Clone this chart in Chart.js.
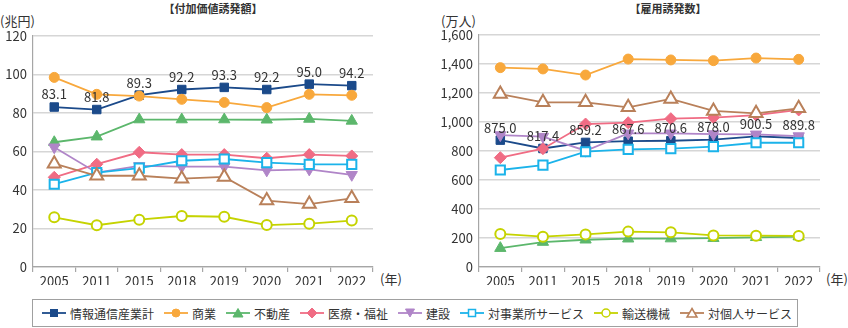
<!DOCTYPE html>
<html lang="ja">
<head>
<meta charset="utf-8">
<script src="https://cdn.jsdelivr.net/npm/chart.js@4/dist/chart.umd.min.js"></script>
<style>
  body { margin: 0; background: #fff; font-family: "Noto Sans CJK JP", sans-serif; color: #333; }
  #wrap { position: relative; width: 848px; height: 328px; overflow: hidden; }
  .txt { position: absolute; font-size: 13px; line-height: 1; white-space: nowrap; }
  .title { font-weight: bold; font-size: 11px; transform: translateX(-50%); }
  canvas { position: absolute; top: 0; }
  #legend { position: absolute; left: 32px; top: 299px; width: 766px; height: 28px; box-sizing: border-box;
            border: 1px solid #a0a0a0; display: flex; align-items: center; padding-left: 9px; font-size: 12px;
            white-space: nowrap; }
  .item { display: flex; align-items: center; margin-right: 10px; flex-shrink: 0; }
  .item svg { margin-right: 4px; flex-shrink: 0; }
</style>
</head>
<body>
<div id="wrap">
  <div class="txt title" style="left:213px; top:3px;">【付加価値誘発額】</div>
  <div class="txt title" style="left:668px; top:3px;">【雇用誘発数】</div>
  <div class="txt" style="left:0px; top:14px;">(兆円)</div>
  <div class="txt" style="left:441px; top:14px;">(万人)</div>
  <div class="txt" style="left:380px; top:272px;">(年)</div>
  <div class="txt" style="left:826px; top:272px;">(年)</div>
  <canvas id="left" width="420" height="285" style="left:0px;"></canvas>
  <canvas id="right" width="428" height="285" style="left:420px;"></canvas>
  <div id="legend"></div>
</div>
<script>
// categories
const years = ['2005', '2011', '2015', '2018', '2019', '2020', '2021', '2022'];
const seriesNames = ['情報通信産業計', '商業', '不動産', '医療・福祉', '建設', '対事業所サービス', '輸送機械', '対個人サービス'];

// 付加価値誘発額 (兆円)
const vaIct          = [83.1, 81.8, 89.3, 92.2, 93.3, 92.2, 95.0, 94.2];
const vaCommerce     = [98.5, 89.7, 88.8, 87.1, 85.5, 82.8, 89.7, 89.2];
const vaRealEstate   = [64.8, 67.7, 76.6, 76.6, 76.6, 76.5, 76.9, 75.9];
const vaMedical      = [46.6, 53.4, 59.6, 58.4, 58.4, 56.5, 58.4, 57.7];
const vaConstruction = [62.2, 49.0, 52.5, 52.1, 52.1, 50.2, 50.7, 47.9];
const vaBizService   = [43.0, 49.0, 51.4, 55.2, 56.1, 54.2, 53.3, 53.3];
const vaTransport    = [25.8, 21.7, 24.6, 26.5, 26.1, 21.8, 22.5, 24.1];
const vaPersonal     = [53.7, 47.4, 47.4, 45.9, 46.8, 34.5, 32.7, 35.7];

// 雇用誘発数 (万人)
const emIct          = [875.0, 817.4, 859.2, 867.6, 870.6, 878.0, 900.5, 889.8];
const emCommerce     = [1375, 1366, 1324, 1434, 1428, 1423, 1441, 1432];
const emRealEstate   = [130, 172, 188, 195, 196, 199, 205, 210];
const emMedical      = [754, 816, 986, 995, 1023, 1030, 1048, 1083];
const emConstruction = [910, 899, 802, 922, 922, 917, 915, 903];
const emBizService   = [669, 703, 795, 811, 816, 830, 857, 857];
const emTransport    = [228, 209, 225, 244, 239, 218, 216, 214];
const emPersonal     = [1193, 1136, 1136, 1101, 1159, 1076, 1060, 1094];

// axis ticks
const vaMax = 120, vaStep = 20;
const emMax = 1600, emStep = 200;

const FONT = '"Noto Sans CJK JP", sans-serif';

// look of each series
const styles = [
  { color: '#1b4a8a', shape: 'rect',     rot: 0,   r: 6,   open: false },
  { color: '#f8a83c', shape: 'circle',   rot: 0,   r: 5,   open: false },
  { color: '#5cb76c', shape: 'triangle', rot: 0,   r: 6.5, open: false },
  { color: '#f06c84', shape: 'rectRot',  rot: 0,   r: 6,   open: false },
  { color: '#b085c8', shape: 'triangle', rot: 180, r: 6.5, open: false },
  { color: '#1bb3ea', shape: 'rect',     rot: 0,   r: 6.5, open: true },
  { color: '#c5d300', shape: 'circle',   rot: 0,   r: 5,   open: true },
  { color: '#b9805a', shape: 'triangle', rot: 0,   r: 7.5, open: true }
];

const valueLabels = {
  id: 'valueLabels',
  afterDatasetsDraw(chart) {
    const meta = chart.getDatasetMeta(0);
    const vals = chart.data.datasets[0].data;
    const ctx = chart.ctx;
    ctx.save();
    ctx.font = '13px ' + FONT;
    ctx.fillStyle = '#333';
    ctx.textAlign = 'center';
    ctx.textBaseline = 'bottom';
    meta.data.forEach((pt, i) => {
      ctx.fillText(vals[i].toFixed(1), pt.x, pt.y - 6);
    });
    ctx.restore();
  }
};

function buildDatasets(series) {
  return series.map((vals, i) => {
    const s = styles[i];
    return {
      label: seriesNames[i],
      data: vals,
      order: -i,
      borderColor: s.color,
      borderWidth: 1.8,
      pointStyle: s.shape,
      rotation: s.rot,
      pointRadius: s.r,
      pointBackgroundColor: s.open ? '#fff' : s.color,
      pointBorderColor: s.color,
      pointBorderWidth: s.open ? 2 : 1,
      tension: 0
    };
  });
}

function makeChart(id, series, max, step, yWidth, padTop, padRight, fmt) {
  const tickFont = { size: 13, family: FONT };
  return new Chart(document.getElementById(id), {
    type: 'line',
    data: { labels: years, datasets: buildDatasets(series) },
    plugins: [valueLabels],
    options: {
      responsive: false,
      animation: false,
      events: [],
      devicePixelRatio: 1,
      layout: { padding: { top: padTop, right: padRight, left: 0, bottom: 0 } },
      plugins: { legend: { display: false }, tooltip: { enabled: false } },
      scales: {
        x: {
          offset: true,
          grid: { offset: true, drawOnChartArea: false, tickLength: 5, color: '#a6a6a6', lineWidth: 1.2 },
          border: { color: '#a6a6a6', width: 1.2 },
          ticks: { color: '#333', font: tickFont, padding: 1, maxRotation: 0 },
          afterFit: s => { s.height = 18; }
        },
        y: {
          min: 0,
          max: max,
          grid: { color: '#d6d6d6', lineWidth: 1.5, drawTicks: false },
          border: { color: '#a6a6a6', width: 1.2 },
          ticks: { stepSize: step, color: '#333', font: tickFont, padding: 6, callback: fmt },
          afterFit: s => { s.width = yWidth; }
        }
      }
    }
  });
}

makeChart('left',
  [vaIct, vaCommerce, vaRealEstate, vaMedical, vaConstruction, vaBizService, vaTransport, vaPersonal],
  vaMax, vaStep, 33, 36, 47, v => v);

makeChart('right',
  [emIct, emCommerce, emRealEstate, emMedical, emConstruction, emBizService, emTransport, emPersonal],
  emMax, emStep, 59, 35, 28, v => v.toLocaleString('en-US'));

// legend: line sample with marker, then name
function markerSvg(s) {
  const c = s.color, fill = s.open ? '#fff' : c, sw = s.open ? 1.5 : 1;
  let shape = '';
  if (s.shape === 'rect') shape = `<rect x="8.5" y="2.5" width="7" height="7" fill="${fill}" stroke="${c}" stroke-width="${sw}"/>`;
  else if (s.shape === 'circle') shape = `<circle cx="12" cy="6" r="4" fill="${fill}" stroke="${c}" stroke-width="${sw}"/>`;
  else if (s.shape === 'rectRot') shape = `<polygon points="12,1 17,6 12,11 7,6" fill="${fill}" stroke="${c}" stroke-width="${sw}"/>`;
  else if (s.rot === 180) shape = `<polygon points="7.5,2 16.5,2 12,10" fill="${fill}" stroke="${c}" stroke-width="${sw}"/>`;
  else shape = `<polygon points="12,1.5 17,10 7,10" fill="${fill}" stroke="${c}" stroke-width="${sw}"/>`;
  return `<svg width="24" height="12" viewBox="0 0 24 12"><line x1="0" y1="6" x2="24" y2="6" stroke="${c}" stroke-width="1.8"/>${shape}</svg>`;
}

const legend = document.getElementById('legend');
seriesNames.forEach((name, i) => {
  const item = document.createElement('div');
  item.className = 'item';
  item.innerHTML = markerSvg(styles[i]) + `<span>${name}</span>`;
  legend.appendChild(item);
});
</script>
</body>
</html>
